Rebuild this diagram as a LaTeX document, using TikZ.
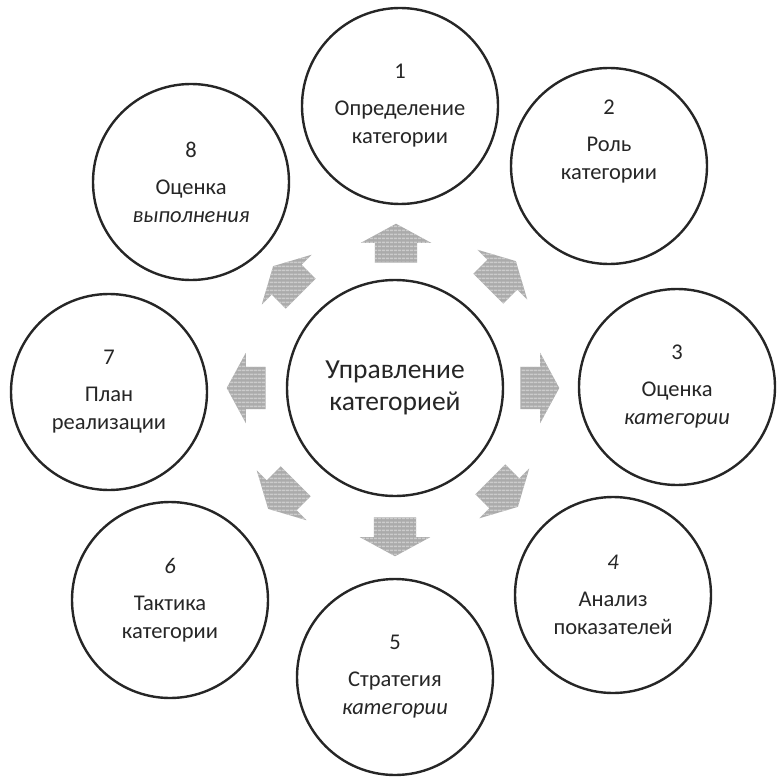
\documentclass[tikz,border=0pt]{standalone}
\usepackage{fontspec}
\setmainfont{Carlito}
\usetikzlibrary{shapes.arrows,patterns.meta}

\begin{document}
\begin{tikzpicture}[x=1pt, y=-1pt,
    ring/.style={
        circle,
        draw=black!85,
        line width=2.4pt,
        fill=white,
        minimum size=196pt,
        inner sep=0pt,
        align=center,
        text=black!85,
        font=\fontsize{22.5}{28}\selectfont
    },
    hub/.style={
        ring,
        minimum size=216pt,
        text=black!85,
        font=\fontsize{27.5}{32}\selectfont
    },
    block_arrow/.style={
        single arrow,
        draw=none,
        fill=black!33,
        text height=21pt,
        text depth=21pt,
        minimum height=39pt,
        single arrow head extend=14pt,
        single arrow tip angle=123,
        inner sep=0pt,
        postaction={pattern={Lines[angle=0, distance=4pt, line width=1.6pt]}, pattern color=black!20}
    }
]
    \useasboundingbox (0,0) rectangle (776,778);
    \node (category_management) [hub, shift={(395,388)}]
    {
        Управление\\категорией
    };
    \node (category_definition) [ring, shift={(400,106)}]
    {
        1\\[9pt]Определение\\категории
    };
    \node (category_role) [ring, shift={(609,166)}]
    {
        2\\[9pt]Роль\\категории\\[16pt]\strut
    };
    \node (category_assessment) [ring, shift={(677,387)}]
    {
        3\\[9pt]Оценка\\\textit{категории}
    };
    \node (indicator_analysis) [ring, shift={(613,595)}]
    {
        \textit{4}\\[9pt]Анализ\\показателей
    };
    \node (category_strategy) [ring, shift={(395,677)}]
    {
        5\\[9pt]Стратегия\\\textit{категории}
    };
    \node (category_tactics) [ring, shift={(170,600)}]
    {
        \textit{6}\\[9pt]Тактика\\категории
    };
    \node (implementation_plan) [ring, shift={(109,392)}]
    {
        7\\[9pt]План\\реализации
    };
    \node (performance_assessment) [ring, shift={(191,182)}]
    {
        8\\[9pt]Оценка\\\textit{выполнения}
    };
    \node (arrow_up) [block_arrow, rotate=90] at (396,249) {};
    \node (arrow_up_right) [block_arrow, rotate=45] at (498,279) {};
    \node (arrow_right) [block_arrow] at (534,388) {};
    \node (arrow_down_right) [block_arrow, rotate=-45] at (500,489) {};
    \node (arrow_down) [block_arrow, rotate=-90] at (395,531) {};
    \node (arrow_down_left) [block_arrow, rotate=-135] at (286,491) {};
    \node (arrow_left) [block_arrow, rotate=180] at (252,388) {};
    \node (arrow_up_left) [block_arrow, rotate=135] at (291,284) {};
\end{tikzpicture}
\end{document}
